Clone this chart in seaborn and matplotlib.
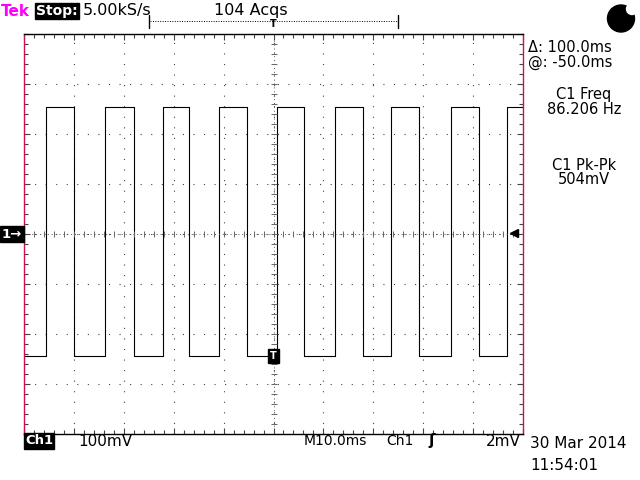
import numpy as np
import pandas as pd
import matplotlib.pyplot as plt
import seaborn as sns
from matplotlib.lines import Line2D
from matplotlib.patches import Ellipse

# edge times of the captured square wave (ms) and the level after each edge (mV)
edge_times = [-50.0, -45.5, -39.9, -33.7, -27.9, -22.1, -16.9, -10.9, -5.3,
              0.7, 6.2, 12.4, 17.9, 23.5, 29.1, 35.5, 41.2, 46.7, 50.0]
edge_levels = [-244, 254, -244, 254, -244, 254, -244, 254, -244,
               254, -244, 254, -244, 254, -244, 254, -244, 254, 254]

header = ["5.00kS/s", "104 Acqs"]
readouts = ["\u0394: 100.0ms", "@: -50.0ms", "C1 Freq", "86.206 Hz", "C1 Pk-Pk", "504mV"]
footer = ["100mV", "M10.0ms", "Ch1", "2mV", "30 Mar 2014", "11:54:01"]

df = pd.DataFrame({"t": edge_times, "v": edge_levels})

sns.set_style("white")
plt.rcParams["font.family"] = ["DejaVu Sans"]
plt.rcParams["text.color"] = "black"

W, H = 640, 480
fig = plt.figure(figsize=(6.4, 4.8), dpi=100)
ax = fig.add_axes([24 / W, 1 - 434 / H, 499 / W, 400 / H])


def fx(x):
    return x / W


def fy(y):
    return 1 - y / H


sns.lineplot(data=df, x="t", y="v", ax=ax, color="black", lw=0.8,
             drawstyle="steps-post", sort=False, estimator=None, legend=False)

ax.set_xlim(-50, 50)
ax.set_ylim(-400, 400)
ax.set_xlabel("")
ax.set_ylabel("")
ax.set_xticks(np.arange(-50, 51, 10))
ax.set_yticks(np.arange(-400, 401, 100))
ax.set_xticks(np.arange(-50, 51, 2), minor=True)
ax.set_yticks(np.arange(-400, 401, 20), minor=True)
ax.set_xticklabels([])
ax.set_yticklabels([])
ax.tick_params(which="both", direction="in", top=True, right=True,
               bottom=True, left=True, color="#444444", width=0.8)
ax.tick_params(which="major", length=4)
ax.tick_params(which="minor", length=3)
ax.grid(True, which="major", color="#444444", lw=0.8, linestyle=(0, (1, 8.5)))

# centre cross with finer dots
ax.axhline(0, color="#555555", lw=0.7, linestyle=(0, (1, 3)))
ax.axvline(0, color="#555555", lw=0.7, linestyle=(0, (1, 3)))
ax.plot(np.arange(-50, 51, 2), np.zeros(51), ls="none", marker="|", ms=4,
        color="#666666", mew=0.7)
ax.plot(np.zeros(41), np.arange(-400, 401, 20), ls="none", marker="_", ms=4,
        color="#666666", mew=0.7)

for side in ["left", "right"]:
    ax.spines[side].set_color("#d0104c")
    ax.spines[side].set_linewidth(1.0)
for side in ["top", "bottom"]:
    ax.spines[side].set_color("black")
    ax.spines[side].set_linewidth(1.0)

# trigger level arrow and ground marker
ax.plot([48.2], [2], marker="<", ms=6, color="black")
ax.text(0, -244, "T", color="white", ha="center", va="center", fontsize=7,
        fontweight="bold",
        bbox=dict(boxstyle="square,pad=0.2", fc="black", ec="black"))

# header
fig.text(fx(1), fy(11), "Tek", color="#ff00ff", fontsize=11, fontweight="bold", va="center")
fig.text(fx(36), fy(11), "Stop:", color="white", fontsize=10, fontweight="bold", va="center",
         bbox=dict(boxstyle="square,pad=0.1", fc="black", ec="black"))
fig.text(fx(83), fy(11), header[0], fontsize=11.5, va="center")
fig.text(fx(214), fy(10), header[1], fontsize=11.5, va="center")

# record bar
fig.add_artist(Line2D([fx(150), fx(398)], [fy(21), fy(21)], color="black",
                      lw=0.7, linestyle=(0, (1, 1.5))))
fig.add_artist(Line2D([fx(149), fx(149)], [fy(15), fy(28)], color="black", lw=1.0))
fig.add_artist(Line2D([fx(398), fx(398)], [fy(15), fy(28)], color="black", lw=1.0))
fig.text(fx(273), fy(24), "T", ha="center", va="center", fontsize=7, fontweight="bold")

# run indicator
fig.add_artist(Ellipse((fx(621), fy(18.5)), 27 / W, 27 / H,
                       transform=fig.transFigure, color="black"))
fig.add_artist(Ellipse((fx(632), fy(9)), 11 / W, 11 / H,
                       transform=fig.transFigure, color="white"))

# channel marker
fig.text(fx(2), fy(234), "1\u2192", color="white", fontsize=9.5, fontweight="bold",
         va="center", bbox=dict(boxstyle="square,pad=0.12", fc="black", ec="black"))

# readouts on the right
fig.text(fx(528), fy(47), readouts[0], fontsize=10.5, va="center")
fig.text(fx(528), fy(62), readouts[1], fontsize=10.5, va="center")
fig.text(fx(584), fy(94), readouts[2], fontsize=10.5, va="center", ha="center")
fig.text(fx(584), fy(109), readouts[3], fontsize=10.5, va="center", ha="center")
fig.text(fx(584), fy(165), readouts[4], fontsize=10.5, va="center", ha="center")
fig.text(fx(584), fy(180), readouts[5], fontsize=10.5, va="center", ha="center")

# footer
fig.text(fx(25), fy(441), "Ch1", color="white", fontsize=9.5, fontweight="bold", va="center",
         bbox=dict(boxstyle="square,pad=0.08", fc="black", ec="black"))
fig.text(fx(78), fy(441), footer[0], fontsize=11, va="center")
fig.text(fx(304), fy(441), footer[1], fontsize=10, va="center")
fig.text(fx(386), fy(441), footer[2], fontsize=10, va="center")
fig.text(fx(428), fy(441), "\u0283", fontsize=11, va="center", fontweight="bold")
fig.text(fx(521), fy(441), footer[3], fontsize=11, va="center", ha="right")
fig.text(fx(530), fy(443), footer[4], fontsize=11, va="center")
fig.text(fx(530), fy(466), footer[5], fontsize=11, va="center")

fig.savefig("out.png", dpi=100, facecolor="white")
